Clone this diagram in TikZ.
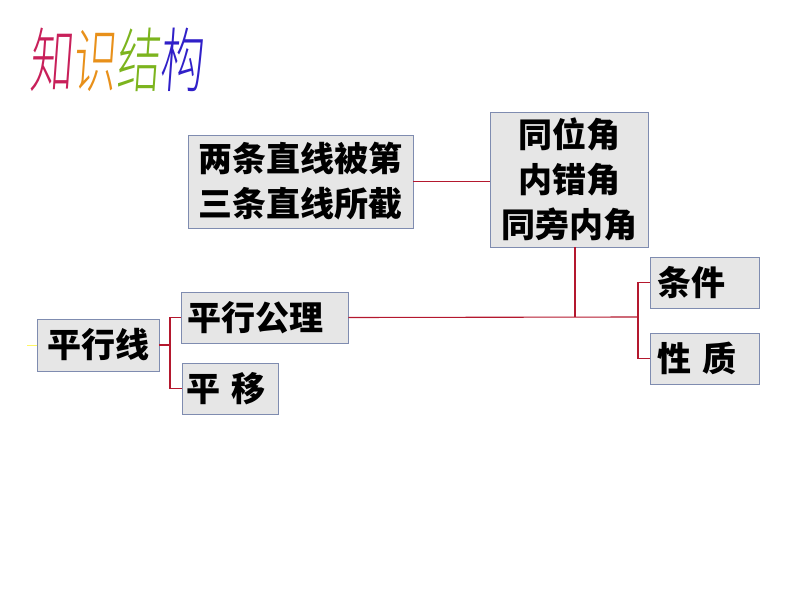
\documentclass[tikz,border=0pt]{standalone}
\usepackage{fontspec}
\newfontfamily\cjk{Noto Sans CJK SC}
\IfFontExistsTF{Noto Sans CJK SC Light}{\newfontfamily\cjkthin{Noto Sans CJK SC Light}}{\newfontfamily\cjkthin{Noto Sans CJK SC}}
\definecolor{boxfill}{HTML}{E6E6E6}
\definecolor{boxline}{HTML}{7F8CB0}
\definecolor{linkred}{HTML}{B4182E}
\definecolor{tA}{HTML}{C8205A}
\definecolor{tB}{HTML}{E8901A}
\definecolor{tC}{HTML}{7CB41E}
\definecolor{tD}{HTML}{3020C8}
\tikzset{
  box/.style={draw=boxline, line width=0.8pt, fill=boxfill, font=\cjk\bfseries\fontsize{34}{45}\selectfont, inner sep=0pt, align=center},
  link/.style={draw=linkred, line width=1.1pt},
  ttl/.style={font=\cjkthin\fontsize{70}{70}\selectfont, xscale=0.62, xslant=0.12, inner sep=0pt}
}
\begin{document}
\begin{tikzpicture}[x=1pt,y=-1pt]
\useasboundingbox (0,0) rectangle (794,596);
% title
\node[ttl] (title) at (118,60) {\textcolor{tA}{知}\textcolor{tB}{识}\textcolor{tC}{结}\textcolor{tD}{构}};
% boxes
\node[box, minimum width=225pt, minimum height=93pt] (cut) at (300.5,181.5) {两条直线被第\\三条直线所截};
\node[box, minimum width=158pt, minimum height=135pt] (ang) at (569,179.5) {同位角\\内错角\\同旁内角};
\node[box, minimum width=122pt, minimum height=52pt] (pl) at (98,345) {平行线};
\node[box, minimum width=167pt, minimum height=51pt, text width=154pt, align=left] (ax) at (264.5,317.5) {平行公理};
\node[box, minimum width=96pt, minimum height=51pt, text width=88pt, align=left] (tr) at (230,388.5) {平\,\,移};
\node[box, minimum width=109pt, minimum height=51pt, text width=95pt, align=left] (cond) at (704.5,282.5) {条件};
\node[box, minimum width=109pt, minimum height=51pt, text width=95pt, align=left] (prop) at (704.5,358.5) {性\,\,质};
% connectors
\draw[link] (cut.east) -- (ang.west |- cut.east);
\coordinate (j1) at (575,317);
\coordinate (bR) at (638,317);
\draw[link] (ang.south -| j1) -- (j1);
\draw[link] (ax.east) -- (bR);
\draw[link] (cond.west) -- (cond.west -| bR) -- (prop.west -| bR) -- (prop.west);
\coordinate (bL) at (170,345);
\draw[link] (pl.east) -- (bL);
\draw[link] (ax.west) -- (ax.west -| bL) -- (tr.west -| bL) -- (tr.west);
\coordinate (ym) at (27,345);
\draw[yellow!60!white, line width=1pt] (ym) -- (pl.west);
\end{tikzpicture}
\end{document}
